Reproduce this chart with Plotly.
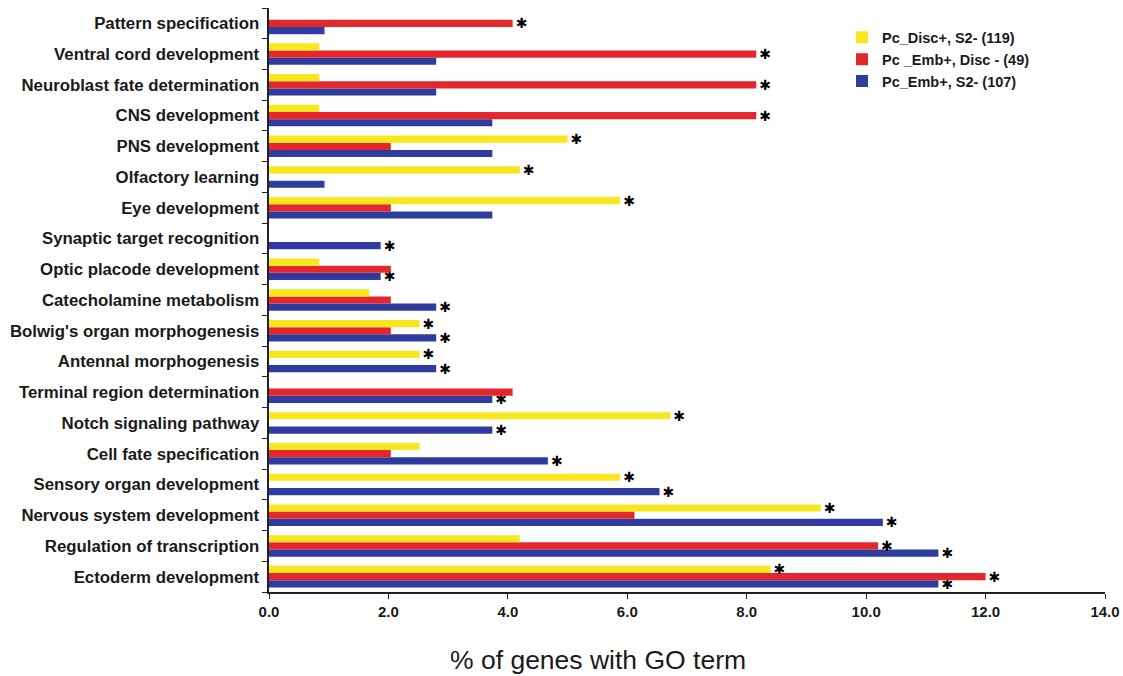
import plotly.graph_objects as go

categories = [
    "Pattern specification", "Ventral cord development", "Neuroblast fate determination",
    "CNS development", "PNS development", "Olfactory learning", "Eye development",
    "Synaptic target recognition", "Optic placode development", "Catecholamine metabolism",
    "Bolwig's organ morphogenesis", "Antennal morphogenesis", "Terminal region determination",
    "Notch signaling pathway", "Cell fate specification", "Sensory organ development",
    "Nervous system development", "Regulation of transcription", "Ectoderm development",
]

disc_vals = [0, 0.84, 0.84, 0.84, 5.0, 4.2, 5.88, 0, 0.84, 1.68, 2.52, 2.52, 0, 6.72, 2.52, 5.88, 9.24, 4.2, 8.4]
emb_disc_vals = [4.08, 8.16, 8.16, 8.16, 2.04, 0, 2.04, 0, 2.04, 2.04, 2.04, 0, 4.08, 0, 2.04, 0, 6.12, 10.2, 12.0]
emb_s2_vals = [0.93, 2.8, 2.8, 3.74, 3.74, 0.93, 3.74, 1.87, 1.87, 2.8, 2.8, 2.8, 3.74, 3.74, 4.67, 6.54, 10.28, 11.21, 11.21]

disc_star = [0, 0, 0, 0, 1, 1, 1, 0, 0, 0, 1, 1, 0, 1, 0, 1, 1, 0, 1]
emb_disc_star = [1, 1, 1, 1, 0, 0, 0, 0, 0, 0, 0, 0, 0, 0, 0, 0, 0, 1, 1]
emb_s2_star = [0, 0, 0, 0, 0, 0, 0, 1, 1, 1, 1, 1, 1, 1, 1, 1, 1, 1, 1]

series_names = ["Pc_Disc+, S2- (119)", "Pc _Emb+, Disc - (49)", "Pc_Emb+, S2- (107)"]
colors = ["#f9e71e", "#e3272d", "#2d3c9e"]

x_ticks = [0, 2, 4, 6, 8, 10, 12, 14]
x_tick_labels = ["0.0", "2.0", "4.0", "6.0", "8.0", "10.0", "12.0", "14.0"]
x_title = "% of genes with GO term"

STAR = "\u2731"

fig = go.Figure()
# blue first (bottom of each group), yellow last (top of group)
for name, vals, stars, col in [
    (series_names[2], emb_s2_vals, emb_s2_star, colors[2]),
    (series_names[1], emb_disc_vals, emb_disc_star, colors[1]),
    (series_names[0], disc_vals, disc_star, colors[0]),
]:
    fig.add_trace(go.Bar(
        y=categories, x=vals, orientation="h", name=name,
        marker=dict(color=col, line=dict(width=0)),
        text=[STAR if s else "" for s in stars],
        textposition="outside", constraintext="none", cliponaxis=False,
        textfont=dict(family="DejaVu Sans", size=14, color="black"),
        textangle=0,
    ))

fig.add_annotation(
    text=x_title, xref="paper", yref="paper", x=0.3935, y=-0.1164,
    xanchor="center", yanchor="middle", showarrow=False,
    font=dict(size=26.5, family="Liberation Sans, Arial", color="#1a1a1a"),
)

fig.update_layout(
    width=1123, height=676,
    margin=dict(l=269, r=18, t=8, b=84, autoexpand=False),
    paper_bgcolor="white", plot_bgcolor="white",
    barmode="group", bargap=0.3, bargroupgap=0,
    font=dict(family="Liberation Sans, Arial", color="#1a1a1a"),
    legend=dict(
        x=0.6854, y=0.977, xanchor="left", yanchor="top",
        traceorder="reversed", font=dict(size=14.5, family="Liberation Sans, Arial", weight="bold"),
        itemwidth=30, tracegroupgap=0, bgcolor="rgba(0,0,0,0)",
    ),
    xaxis=dict(
        range=[0, 14], tickvals=x_ticks, ticktext=x_tick_labels,
        showgrid=False, zeroline=False, showline=True, linecolor="#222", linewidth=1.5,
        ticks="outside", ticklen=5, tickcolor="#222", automargin=False,
        ticklabeloverflow="allow",
        tickfont=dict(size=15, weight="bold"),
    ),
    yaxis=dict(
        categoryorder="array", categoryarray=categories[::-1],
        showgrid=False, zeroline=False, showline=True, linecolor="#222", linewidth=1.5,
        ticks="outside", ticklen=5, tickcolor="#222", tickson="boundaries",
        automargin=False,
        tickfont=dict(size=16.8, weight="bold"), ticksuffix=" ",
    ),
)

fig.write_html(
    "out.html",
    post_script="document.body.style.margin='0px';",
    config={"displayModeBar": False},
)
